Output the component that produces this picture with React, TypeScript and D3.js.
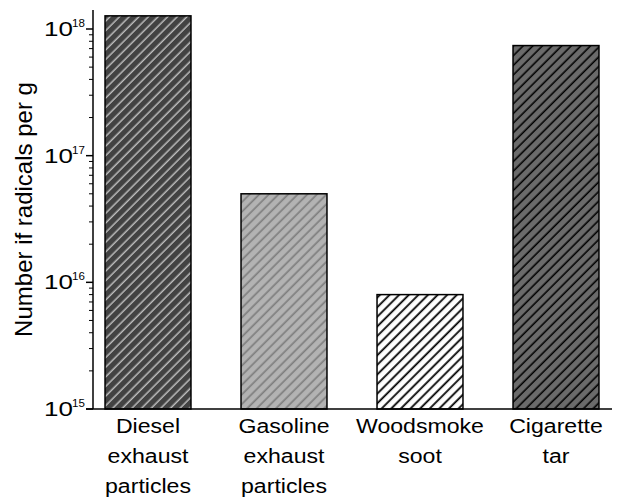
import React from "react";
import * as d3 from "d3";

const categories: string[][] = [
  ["Diesel", "exhaust", "particles"],
  ["Gasoline", "exhaust", "particles"],
  ["Woodsmoke", "soot"],
  ["Cigarette", "tar"],
];
const radicalsPerGram: number[] = [1.27e18, 5.0e16, 8.0e15, 7.4e17];
const tickExponents: number[] = [15, 16, 17, 18];
const yTitle = "Number if radicals per g";

const fills = [
  { id: "hatch-diesel", bg: "#424242", line: "#bcbcbc", w: 1.5 },
  { id: "hatch-gasoline", bg: "#b3b3b3", line: "#7e7e7e", w: 1.7 },
  { id: "hatch-wood", bg: "#ffffff", line: "#000000", w: 1.8 },
  { id: "hatch-cig", bg: "#6b6b6b", line: "#000000", w: 1.6 },
];
const hatchPeriod = 6.8;

const W = 617;
const H = 497;
const axisX = 93;
const axisBottom = 409;
const axisTop = 10;

export default function App() {
  const y = d3.scaleLog().domain([1e15, 1e18]).range([axisBottom, 29]);
  const x = d3
    .scaleBand<number>()
    .domain(d3.range(categories.length))
    .range([80, 624])
    .paddingInner(0.368)
    .paddingOuter(0.184);

  const minorTicks: number[] = [];
  for (let e = 15; e <= 18; e++) {
    for (let m = 2; m <= 9; m++) {
      const v = m * Math.pow(10, e);
      if (y(v) >= axisTop) minorTicks.push(v);
    }
  }

  const font = "'Liberation Sans', Arial, sans-serif";

  return (
    <svg
      width={W}
      height={H}
      style={{ position: "absolute", left: 0, top: 0, background: "#fff" }}
      fontFamily={font}
    >
      <defs>
        {fills.map((f) => (
          <pattern
            key={f.id}
            id={f.id}
            patternUnits="userSpaceOnUse"
            width={hatchPeriod}
            height={hatchPeriod}
            patternTransform="rotate(45)"
          >
            <rect width={hatchPeriod} height={hatchPeriod} fill={f.bg} />
            <line x1={1.2} y1={0} x2={1.2} y2={hatchPeriod} stroke={f.line} strokeWidth={f.w} />
          </pattern>
        ))}
      </defs>

      {/* bars */}
      {radicalsPerGram.map((v, i) => (
        <rect
          key={i}
          x={x(i)!}
          y={y(v)}
          width={x.bandwidth()}
          height={axisBottom - y(v)}
          fill={`url(#${fills[i].id})`}
          stroke="#000"
          strokeWidth={1.5}
        />
      ))}

      {/* axes */}
      <line x1={axisX} y1={axisTop} x2={axisX} y2={axisBottom} stroke="#000" strokeWidth={1.5} />
      <line x1={86} y1={axisBottom} x2={612} y2={axisBottom} stroke="#000" strokeWidth={1.5} />

      {minorTicks.map((v, i) => (
        <line key={i} x1={axisX - 4} x2={axisX} y1={y(v)} y2={y(v)} stroke="#000" strokeWidth={1} />
      ))}
      {tickExponents.map((e) => (
        <g key={e} transform={`translate(0,${y(Math.pow(10, e))})`}>
          <line x1={axisX - 7} x2={axisX} stroke="#000" strokeWidth={1.5} />
          <text
            transform="translate(73,7) scale(1.3,1)"
            textAnchor="end"
            fontSize={20}
            fill="#000"
          >
            10
          </text>
          <text transform="translate(72,-2) scale(1.1,1)" fontSize={10.5} fill="#000">
            {e}
          </text>
        </g>
      ))}

      {/* category labels */}
      {categories.map((lines, i) =>
        lines.map((l, j) => (
          <text
            key={`${i}-${j}`}
            transform={`translate(${x(i)! + x.bandwidth() / 2},${433 + j * 30}) scale(1.1,1)`}
            textAnchor="middle"
            fontSize={21}
            fill="#000"
          >
            {l}
          </text>
        ))
      )}

      {/* y title */}
      <text
        transform="translate(32,209.5) rotate(-90)"
        textAnchor="middle"
        fontSize={24}
        fill="#000"
      >
        {yTitle}
      </text>
    </svg>
  );
}
